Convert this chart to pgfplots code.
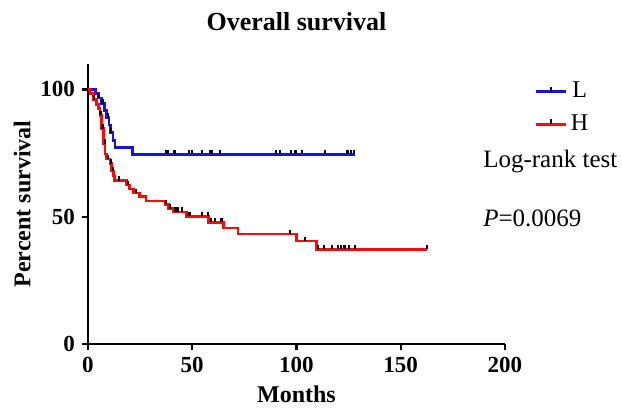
\documentclass[border=0pt]{standalone}
\usepackage{fontspec}
\setmainfont{Liberation Serif}
\usepackage{pgfplots}
\pgfplotsset{compat=1.18}

% censor mark: short upward tick
\pgfdeclareplotmark{cens}{%
  \pgfpathmoveto{\pgfpoint{0pt}{0pt}}%
  \pgfpathlineto{\pgfpoint{0pt}{\pgfplotmarksize}}%
  \pgfusepathqstroke}

\definecolor{cL}{RGB}{20,20,230}
\definecolor{cH}{RGB}{250,10,10}

\begin{document}
\begin{tikzpicture}
\path[use as bounding box] (-44pt,-32pt) rectangle (267pt,172pt);
\begin{axis}[
    at={(0,0)}, anchor=south west,
    scale only axis,
    width=208.5pt, height=140pt,
    xmin=0, xmax=200, ymin=0, ymax=110,
    xtick={0,50,100,150,200},
    ytick={0,50,100},
    axis x line*=bottom, axis y line*=left,
    axis line style={line width=1.4pt, -},
    tick style={line width=1.2pt, black},
    tick align=outside,
    major tick length=3pt,
    /pgf/number format/assume math mode=true,
    ticklabel style={font=\fontsize{11.5}{13}\selectfont\bfseries},
    xlabel={Months},
    ylabel={Percent survival},
    label style={font=\fontsize{12}{14}\selectfont\bfseries},
    xlabel style={yshift=0pt},
    ylabel style={yshift=-2pt},
    title={Overall survival},
    title style={font=\fontsize{13}{15}\selectfont\bfseries, yshift=7pt},
    clip=false,
    legend style={at={(1.055,0.965)}, anchor=north west, draw=none, fill=none,
        font=\fontsize{12}{14}\selectfont, row sep=3pt,
        /tikz/every even column/.append style={column sep=4pt}},
    legend image code/.code={%
        \draw[#1, mark=none] (0pt,0pt) -- (15pt,0pt);
        \draw[black, line width=1pt] (7.5pt,0pt) -- (7.5pt,2.5pt);},
]
% L group
\addplot[cL, line width=1.3pt, const plot] coordinates {
 (0,100) (3.5,98.5) (5.3,96.6) (6.5,94.4) (7.8,91.7) (9,89) (10,86)
 (10.8,83) (12,80) (13,77.2) (21.4,74.5) (128,74.5)};
\addlegendentry{L}
% H group
\addplot[cH, line width=1.3pt, const plot] coordinates {
 (0,100) (1,98.4) (2.5,96) (4,94) (5,92.5) (5.7,89.8) (6.5,84.6) (7.3,78.7)
 (8.2,74.7) (9,72.7) (10.5,70.8) (11.3,68) (12.2,66) (12.7,64.2) (18.5,62.4)
 (20,60.9) (21.7,59.3) (24.6,57.9) (27.8,56.2) (36.9,54.9) (38.5,53.2)
 (41,51.9) (47.3,50.1) (57.7,47.8) (65,45.6) (72,43.2) (100,40.4)
 (109.6,37.2) (162.4,37.2)};
\addlegendentry{H}
% censored, L
\addplot[only marks, mark=cens, mark size=2.2pt, black, line width=1.1pt, forget plot] coordinates {
 (5,96.6) (7,94.4) (9.5,89) (11,83)
 (37.5,74.5) (38.5,74.5) (41.5,74.5) (48.5,74.5) (50,74.5) (54.5,74.5)
 (58.5,74.5) (59.5,74.5) (63.3,74.5) (90,74.5) (92,74.5) (97.5,74.5)
 (99.5,74.5) (102.5,74.5) (113.7,74.5) (124.5,74.5) (126,74.5) (127.5,74.5)};
% censored, H
\addplot[only marks, mark=cens, mark size=2.2pt, black, line width=1.1pt, forget plot] coordinates {
 (3,96) (6,89.8) (7,84.6) (8,78.7) (9.5,72.7) (11,70.8) (12,68)
 (15,64.2) (19,62.4) (23,59.3) (37.5,54.9) (39.5,53.2) (42,51.9) (43,51.9)
 (45,51.9) (48,50.1) (49,50.1) (54.5,50.1) (57.5,50.1) (59,47.8) (61,47.8)
 (64,47.8) (97,43.2) (104,40.4) (110.5,37.2) (113,37.2) (117,37.2)
 (120,37.2) (121.5,37.2) (123,37.2) (125,37.2) (128,37.2) (162.4,37.2)};
\node[anchor=west, font=\fontsize{12.5}{15}\selectfont, inner sep=0pt]
  at (rel axis cs:0.947,0.65) {Log-rank test};
\node[anchor=west, font=\fontsize{12.5}{15}\selectfont, inner sep=0pt]
  at (rel axis cs:0.947,0.45) {\textit{P}=0.0069};
\end{axis}
\end{tikzpicture}
\end{document}
